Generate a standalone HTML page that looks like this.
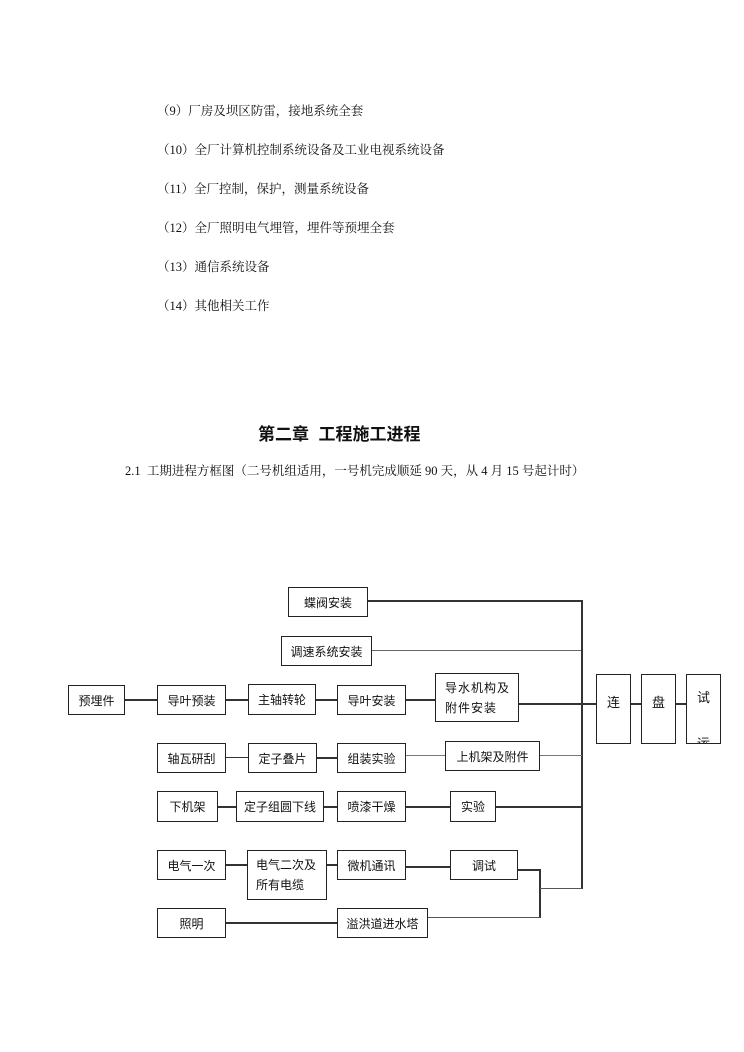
<!DOCTYPE html>
<html><head><meta charset="utf-8"><style>
body{margin:0;background:#fff;width:744px;height:1052px;position:relative;overflow:hidden;font-family:"Liberation Serif","Noto Serif CJK SC","Noto Sans CJK SC",serif;color:#111}
.t{position:absolute;font-size:12.5px;white-space:nowrap}
.b{position:absolute;border:1.5px solid #222;box-sizing:border-box;font-family:"Liberation Sans","Noto Sans CJK SC",sans-serif;font-size:12px;display:flex;align-items:center;justify-content:center;background:#fff}
.l{position:absolute;background:#333}
</style></head><body>
<div class="t" style="left:157px;top:101px">（9）厂房及坝区防雷，接地系统全套</div>
<div class="t" style="left:157px;top:140px">（10）全厂计算机控制系统设备及工业电视系统设备</div>
<div class="t" style="left:157px;top:179px">（11）全厂控制，保护，测量系统设备</div>
<div class="t" style="left:157px;top:218px">（12）全厂照明电气埋管，埋件等预埋全套</div>
<div class="t" style="left:157px;top:257px">（13）通信系统设备</div>
<div class="t" style="left:157px;top:296px">（14）其他相关工作</div>
<div class="t" style="left:258px;top:420px;font-size:17px;font-weight:bold;font-family:'Liberation Sans','Noto Sans CJK SC',sans-serif">第二章&nbsp; 工程施工进程</div>
<div class="t" style="left:125px;top:461px">2.1&nbsp; 工期进程方框图（二号机组适用，一号机完成顺延 90 天，从 4 月 15 号起计时）</div>

<!-- lines -->
<div class="l" style="left:367px;top:600px;width:215px;height:1.5px"></div>
<div class="l" style="left:371px;top:650px;width:211px;height:1px;background:#666"></div>
<div class="l" style="left:581px;top:600px;width:1.5px;height:289px"></div>
<div class="l" style="left:124px;top:699px;width:33px;height:1.5px"></div>
<div class="l" style="left:225px;top:699px;width:23px;height:1.5px"></div>
<div class="l" style="left:315px;top:699px;width:22px;height:1.5px"></div>
<div class="l" style="left:405px;top:699px;width:30px;height:1.5px"></div>
<div class="l" style="left:518px;top:703px;width:78px;height:1.5px"></div>
<div class="l" style="left:630px;top:703px;width:11px;height:1.5px"></div>
<div class="l" style="left:675px;top:703px;width:11px;height:1.5px"></div>
<div class="l" style="left:225px;top:757px;width:23px;height:1px"></div>
<div class="l" style="left:316px;top:757px;width:21px;height:1.5px"></div>
<div class="l" style="left:405px;top:755px;width:40px;height:1px;background:#777"></div>
<div class="l" style="left:539px;top:755px;width:43px;height:1px;background:#777"></div>
<div class="l" style="left:217px;top:806px;width:19px;height:1.5px"></div>
<div class="l" style="left:323px;top:806px;width:14px;height:1.5px"></div>
<div class="l" style="left:405px;top:806px;width:45px;height:1.5px"></div>
<div class="l" style="left:495px;top:806px;width:87px;height:1.5px"></div>
<div class="l" style="left:225px;top:864px;width:22px;height:1.5px"></div>
<div class="l" style="left:326px;top:864px;width:11px;height:1.5px"></div>
<div class="l" style="left:405px;top:866px;width:45px;height:1.5px"></div>
<div class="l" style="left:517px;top:869px;width:23px;height:1.5px"></div>
<div class="l" style="left:539px;top:869px;width:1.5px;height:49px"></div>
<div class="l" style="left:427px;top:917px;width:113px;height:1px;background:#555"></div>
<div class="l" style="left:540px;top:888px;width:42px;height:1px;background:#555"></div>
<div class="l" style="left:225px;top:922px;width:112px;height:1.5px"></div>

<!-- boxes -->
<div class="b" style="left:288px;top:587px;width:80px;height:30px">蝶阀安装</div>
<div class="b" style="left:281px;top:636px;width:91px;height:30px">调速系统安装</div>
<div class="b" style="left:68px;top:685px;width:57px;height:30px">预埋件</div>
<div class="b" style="left:157px;top:685px;width:69px;height:30px">导叶预装</div>
<div class="b" style="left:248px;top:684px;width:68px;height:31px">主轴转轮</div>
<div class="b" style="left:337px;top:685px;width:69px;height:30px">导叶安装</div>
<div class="b" style="left:435px;top:673px;width:84px;height:49px;line-height:20px;justify-content:flex-start;padding-left:9px;letter-spacing:1px">导水机构及<br>附件安装</div>
<div class="b" style="left:596px;top:674px;width:35px;height:70px;align-items:flex-start;padding-top:17px;font-size:13px">连</div>
<div class="b" style="left:641px;top:674px;width:35px;height:70px;align-items:flex-start;padding-top:17px;font-size:13px">盘</div>
<div class="b" style="left:686px;top:674px;width:35px;height:70px;align-items:flex-start;overflow:hidden;font-size:13px"><div style="line-height:46px;margin-top:0;text-align:center">试<br>运</div></div>
<div class="b" style="left:157px;top:743px;width:69px;height:30px">轴瓦研刮</div>
<div class="b" style="left:248px;top:743px;width:69px;height:30px">定子叠片</div>
<div class="b" style="left:337px;top:743px;width:69px;height:30px">组装实验</div>
<div class="b" style="left:445px;top:741px;width:95px;height:30px">上机架及附件</div>
<div class="b" style="left:157px;top:791px;width:61px;height:31px">下机架</div>
<div class="b" style="left:236px;top:791px;width:88px;height:31px">定子组圆下线</div>
<div class="b" style="left:337px;top:791px;width:69px;height:31px">喷漆干燥</div>
<div class="b" style="left:450px;top:791px;width:46px;height:31px">实验</div>
<div class="b" style="left:157px;top:850px;width:69px;height:30px">电气一次</div>
<div class="b" style="left:247px;top:850px;width:80px;height:50px;line-height:20px;text-align:left;justify-content:flex-start;padding-left:8px">电气二次及<br>所有电缆</div>
<div class="b" style="left:337px;top:850px;width:69px;height:30px">微机通讯</div>
<div class="b" style="left:450px;top:850px;width:68px;height:30px">调试</div>
<div class="b" style="left:157px;top:908px;width:69px;height:30px">照明</div>
<div class="b" style="left:337px;top:908px;width:91px;height:30px">溢洪道进水塔</div>
</body></html>
